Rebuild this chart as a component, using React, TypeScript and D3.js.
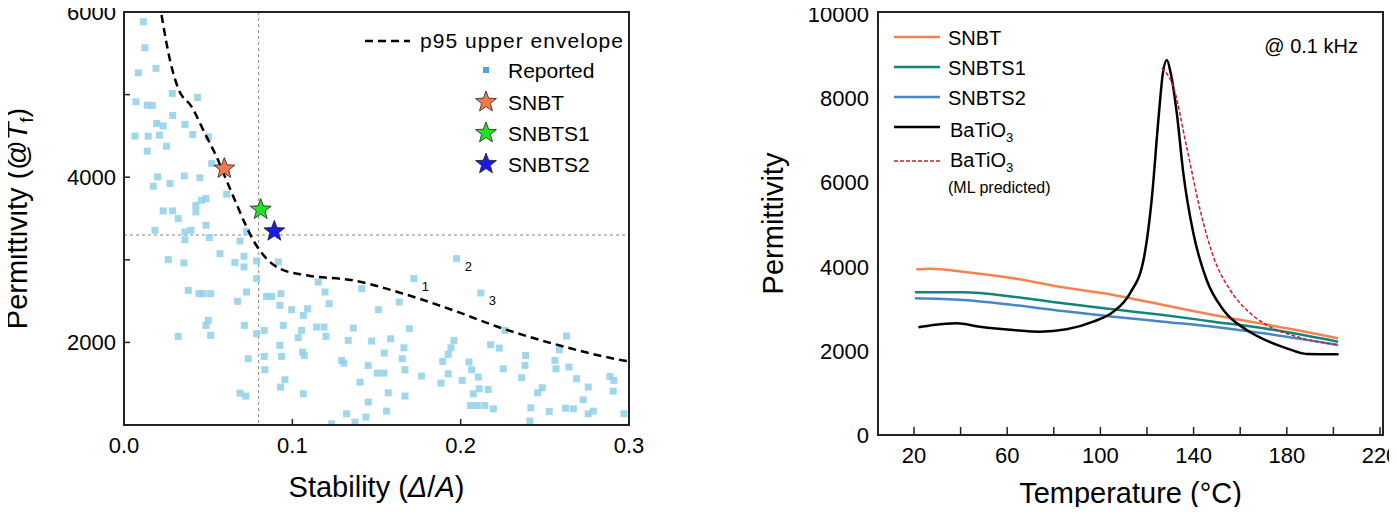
import * as d3 from "d3";

// left panel: reported materials (stability Δ/A, permittivity)
const reportedX = [0.0115,0.0124,0.0085,0.019,0.0287,0.0437,0.0071,0.0138,0.0168,0.0289,0.0194,0.0233,0.0362,0.0065,0.0144,0.021,0.0408,0.0501,0.0253,0.0138,0.0521,0.02,0.0174,0.0273,0.0358,0.0451,0.061,0.0461,0.0487,0.0233,0.0289,0.0427,0.0322,0.0427,0.0184,0.0398,0.0362,0.0487,0.0362,0.0507,0.0728,0.0689,0.0263,0.0356,0.057,0.0659,0.0713,0.0713,0.0788,0.0917,0.0788,0.1154,0.1194,0.1412,0.1722,0.1976,0.212,0.0382,0.0445,0.0471,0.0515,0.0728,0.0675,0.0847,0.0877,0.0932,0.0926,0.0996,0.1091,0.1065,0.1219,0.1511,0.1635,0.0501,0.0487,0.0715,0.0946,0.1144,0.1188,0.1362,0.1055,0.1035,0.0833,0.0788,0.12,0.1695,0.0322,0.0515,0.0926,0.1332,0.1471,0.1584,0.196,0.1942,0.2178,0.2229,0.2263,0.2629,0.2586,0.1663,0.1546,0.1653,0.1061,0.1071,0.0936,0.0833,0.0738,0.1293,0.1307,0.1893,0.1926,0.2049,0.2386,0.256,0.2566,0.2643,0.2382,0.2253,0.2065,0.2105,0.1451,0.1669,0.1505,0.1544,0.0837,0.1768,0.1926,0.2009,0.2362,0.2689,0.2887,0.291,0.0956,0.093,0.1402,0.1883,0.2758,0.2485,0.2457,0.2164,0.211,0.2075,0.157,0.1669,0.1065,0.0689,0.0724,0.2906,0.2728,0.2059,0.2099,0.2144,0.2194,0.1451,0.2417,0.2526,0.2623,0.2669,0.2788,0.2758,0.297,0.1322,0.1437,0.156,0.2411,0.1372,0.1233];
const reportedY = [5882,5567,5264,5317,5014,4965,4913,4872,4868,4747,4650,4622,4638,4497,4497,4509,4517,4489,4375,4315,4165,4004,3891,3923,4016,3992,3794,3721,3741,3592,3592,3660,3499,3580,3357,3357,3337,3418,3244,3269,3345,3228,3002,2962,3075,2966,3042,2913,2986,2974,2772,2731,2610,2650,2772,3014,2598,2630,2590,2590,2590,2610,2497,2557,2557,2590,2448,2396,2408,2327,2469,2396,2489,2267,2206,2206,2206,2186,2186,2174,2145,2057,2145,2105,2073,2166,2073,2085,1964,2024,2016,2044,2024,1935,1972,1931,2145,2077,1911,1935,1871,1802,1883,1842,1830,1830,1802,1782,1749,1770,1855,1762,1842,1782,1681,1701,1721,1681,1669,1580,1721,1669,1628,1628,1669,1592,1620,1540,1572,1560,1588,1540,1548,1459,1519,1507,1459,1451,1390,1430,1438,1378,1390,1350,1378,1386,1350,1410,1305,1236,1236,1236,1196,1277,1208,1164,1204,1196,1168,1136,1136,1136,1095,1168,1047,1035,1014];
const labelledIdx = [54, 55, 56];
const labelledText = ["1", "2", "3"];
const envX = [0.0223,0.0273,0.0322,0.0402,0.0481,0.055,0.06,0.0659,0.0719,0.0768,0.0847,0.0926,0.1085,0.1362,0.1659,0.1956,0.2253,0.255,0.2966,0.3];
const envY = [5963,5418,5074,4852,4529,4246,4004,3721,3438,3236,3014,2893,2812,2751,2590,2388,2166,1984,1782,1770];
const starNames = ["SNBT", "SNBTS1", "SNBTS2"];
const starX = [0.0596, 0.0812, 0.0893];
const starY = [4105, 3608, 3345];
const starColors = ["#f4794f", "#22e022", "#1a1ae0"];
const refX = 0.08, refY = 3300;

// right panel: permittivity vs temperature
const snbtT = [21,26.9,41,62.6,84,105.6,127,148.5,170,184,202];
const snbtV = [3935,3951,3880,3722,3508,3326,3088,2850,2637,2494,2296];
const s1T = [20.4,41,62.6,84,105.6,127,148.5,170,202];
const s1V = [3389,3389,3286,3128,2985,2850,2692,2534,2217];
const s2T = [20.4,41,62.6,84,105.6,127,148.5,170,202];
const s2V = [3246,3207,3088,2945,2811,2692,2573,2415,2138];
const btT = [21.9,28.3,38.3,48.3,62.6,74,85.5,96.9,105.6,112.7,118.5,122,125,126.8,128.5,130.2,132.8,135.6,139.9,145.6,152.8,162.8,171.4,180,188.6,202.2];
const btV = [2558,2613,2653,2573,2494,2455,2510,2692,2930,3365,4157,5582,7562,8591,8908,8591,7641,6216,4790,3682,2969,2494,2241,2059,1924,1916];
const mlT = [126.3,131.3,137,142.8,148.5,155.7,162.8,171.4,184.3,202.2];
const mlV = [8710,8274,6849,5345,4236,3444,2969,2613,2336,2138];

const font = "Arial, 'Liberation Sans', sans-serif";

function starPath(r: number) {
  const pts: string[] = [];
  for (let i = 0; i < 10; i++) {
    const a = -Math.PI / 2 + (i * Math.PI) / 5;
    const rr = i % 2 === 0 ? r : r * 0.42;
    pts.push(`${rr * Math.cos(a)},${rr * Math.sin(a)}`);
  }
  return "M" + pts.join("L") + "Z";
}

function Left() {
  const L = 124, R = 629, T = 12, B = 425;
  const x = d3.scaleLinear([0, 0.3], [L, R]);
  const y = d3.scaleLinear([1000, 6000], [B, T]);
  const env = d3.line<number>((_d, i) => x(envX[i]), (_d, i) => y(envY[i])).curve(d3.curveMonotoneX);
  const star = starPath(11);
  return (
    <g fontFamily={font}>
      <defs>
        <clipPath id="lclip"><rect x={L} y={T} width={R - L} height={B - T} /></clipPath>
      </defs>
      <g clipPath="url(#lclip)">
        <line x1={x(refX)} x2={x(refX)} y1={T} y2={B} stroke="#888" strokeDasharray="3,3" />
        <line x1={L} x2={R} y1={y(refY)} y2={y(refY)} stroke="#888" strokeDasharray="3,3" />
        {reportedX.map((v, i) => (
          <rect key={i} x={x(v) - 3.5} y={y(reportedY[i]) - 3.5} width={7} height={7} fill="#8fd0ea" opacity={0.85} />
        ))}
        <path d={env(envX) || ""} fill="none" stroke="#000" strokeWidth={2.5} strokeDasharray="8,5" />
      </g>
      {labelledIdx.map((k, i) => (
        <text key={i} x={x(reportedX[k]) + 8} y={y(reportedY[k]) + 12} fontSize={13}>{labelledText[i]}</text>
      ))}
      {starNames.map((n, i) => (
        <path key={n} d={star} transform={`translate(${x(starX[i])},${y(starY[i])})`} fill={starColors[i]} stroke="#222" strokeWidth={0.8} />
      ))}
      <rect x={L} y={T} width={R - L} height={B - T} fill="none" stroke="#222" strokeWidth={2} />
      {d3.range(1000, 6001, 1000).map(v => (
        <line key={v} x1={L} x2={L + 6} y1={y(v)} y2={y(v)} stroke="#222" strokeWidth={1.5} />
      ))}
      {[2000, 4000, 6000].map(v => (
        <text key={v} x={L - 8} y={y(v) + 8} textAnchor="end" fontSize={22}>{v}</text>
      ))}
      {[0, 0.1, 0.2, 0.3].map(v => (
        <g key={v}>
          <line x1={x(v)} x2={x(v)} y1={B} y2={B - 6} stroke="#222" strokeWidth={1.5} />
          <text x={x(v)} y={B + 28} textAnchor="middle" fontSize={22}>{v.toFixed(1)}</text>
        </g>
      ))}
      <text x={x(0.15)} y={497} textAnchor="middle" fontSize={29}>Stability (<tspan fontStyle="italic">Δ</tspan>/<tspan fontStyle="italic">A</tspan>)</text>
      <text transform={`translate(27,${(T + B) / 2}) rotate(-90)`} textAnchor="middle" fontSize={29}>
        Permittivity (@<tspan fontStyle="italic">T</tspan><tspan fontSize={18} dy={6}>f</tspan><tspan dy={-6}>)</tspan>
      </text>
      {/* legend */}
      <line x1={365} x2={410} y1={41} y2={41} stroke="#000" strokeWidth={2.5} strokeDasharray="8,5" />
      <text x={420} y={48} fontSize={21} textLength={203}>p95 upper envelope</text>
      <rect x={483} y={67} width={6} height={6} fill="#4aa8d8" />
      <text x={508} y={78} fontSize={21}>Reported</text>
      {starNames.map((n, i) => (
        <g key={n}>
          <path d={star} transform={`translate(486,${102 + i * 31})`} fill={starColors[i]} stroke="#222" strokeWidth={0.8} />
          <text x={508} y={110 + i * 31} fontSize={21}>{n}</text>
        </g>
      ))}
    </g>
  );
}

function Right() {
  const L = 878, R = 1383, T = 12, B = 435;
  const x = d3.scaleLinear([20, 220], [914, 1380]);
  const y = d3.scaleLinear([0, 10000], [B, 14]);
  const mk = (ts: number[], vs: number[]) =>
    d3.line<number>((_d, i) => x(ts[i]), (_d, i) => y(vs[i])).curve(d3.curveMonotoneX)(ts) || "";
  const series = [
    { t: snbtT, v: snbtV, c: "#f6834f", w: 2.5, dash: "" },
    { t: s1T, v: s1V, c: "#11857a", w: 2.5, dash: "" },
    { t: s2T, v: s2V, c: "#4a86c4", w: 2.5, dash: "" },
    { t: btT, v: btV, c: "#000", w: 2.5, dash: "" },
    { t: mlT, v: mlV, c: "#c8202a", w: 1.5, dash: "4,2" },
  ];
  const legend = ["SNBT", "SNBTS1", "SNBTS2"];
  return (
    <g fontFamily={font}>
      {series.map((s, i) => (
        <path key={i} d={mk(s.t, s.v)} fill="none" stroke={s.c} strokeWidth={s.w} strokeDasharray={s.dash} />
      ))}
      <rect x={L} y={T} width={R - L} height={B - T} fill="none" stroke="#222" strokeWidth={2} />
      {d3.range(20, 221, 20).map(v => (
        <line key={v} x1={x(v)} x2={x(v)} y1={B} y2={B - 8} stroke="#222" strokeWidth={1.5} />
      ))}
      {d3.range(20, 221, 40).map(v => (
        <text key={v} x={x(v)} y={B + 28} textAnchor="middle" fontSize={22}>{v}</text>
      ))}
      {d3.range(0, 10001, 2000).map(v => (
        <text key={v} x={L - 9} y={y(v) + 8} textAnchor="end" fontSize={22}>{v}</text>
      ))}
      <text x={(L + R) / 2} y={503} textAnchor="middle" fontSize={29}>Temperature (°C)</text>
      <text transform={`translate(783,${(T + B) / 2}) rotate(-90)`} textAnchor="middle" fontSize={29}>Permittivity</text>
      <text x={1358} y={53} textAnchor="end" fontSize={20}>@ 0.1 kHz</text>
      {legend.map((n, i) => (
        <g key={n}>
          <line x1={894} x2={940} y1={37 + i * 30} y2={37 + i * 30} stroke={series[i].c} strokeWidth={2.5} />
          <text x={948} y={45 + i * 30} fontSize={20}>{n}</text>
        </g>
      ))}
      <line x1={894} x2={940} y1={127} y2={127} stroke="#000" strokeWidth={2.5} />
      <text x={950} y={137} fontSize={20}>BaTiO<tspan fontSize={13} dy={5}>3</tspan></text>
      <line x1={894} x2={940} y1={161} y2={161} stroke="#c8202a" strokeWidth={1.5} strokeDasharray="4,2" />
      <text x={950} y={167} fontSize={20}>BaTiO<tspan fontSize={13} dy={5}>3</tspan></text>
      <text x={948} y={193} fontSize={16}>(ML predicted)</text>
    </g>
  );
}

export default function App() {
  return (
    <svg width={1397} height={515} style={{ display: "block", margin: "-8px" }}>
      <rect width={1397} height={515} fill="#fff" />
      <Left />
      <Right />
    </svg>
  );
}
